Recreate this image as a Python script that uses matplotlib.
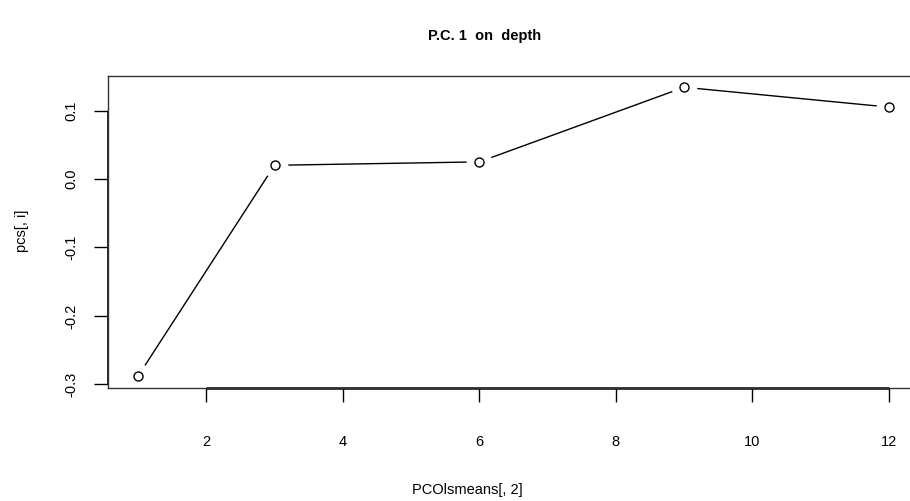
import matplotlib
matplotlib.use("Agg")
import matplotlib.pyplot as plt
import numpy as np

x_vals = [1, 3, 6, 9, 12]
y_vals = [-0.288, 0.020, 0.025, 0.134, 0.105]
x_ticks = [2, 4, 6, 8, 10, 12]
y_ticks = [-0.3, -0.2, -0.1, 0.0, 0.1]
y_tick_labels = ["-0.3", "-0.2", "-0.1", "0.0", "0.1"]
title = "P.C. 1  on  depth"
xlabel = "PCOlsmeans[, 2]"
ylabel = "pcs[, i]"

plt.rcParams['font.family'] = ['Liberation Sans', 'DejaVu Sans']

W, H = 910, 501
fig = plt.figure(figsize=(W / 100, H / 100), dpi=100)
left, right, top, bottom = 108, 919, 75.7, 387.7
ax = fig.add_axes([left / W, 1 - bottom / H, (right - left) / W, (bottom - top) / H])

xmin, xmax = min(x_vals), max(x_vals)
ymin, ymax = min(y_vals), max(y_vals)
dx, dy = (xmax - xmin) * 0.04, (ymax - ymin) * 0.04
ax.set_xlim(xmin - dx, xmax + dx)
ax.set_ylim(ymin - dy, ymax + dy)

ax.plot(x_vals, y_vals, color='black', lw=1.0, zorder=2)
ax.plot(x_vals, y_vals, ls='none', marker='o', ms=18.5, mfc='white', mec='none', zorder=2.1)
ax.plot(x_vals, y_vals, ls='none', marker='o', ms=6.5, mfc='white', mec='black', mew=1.0, zorder=2.2)

for s in ax.spines.values():
    s.set_linewidth(1.0)
    s.set_color('#333333')
    s.set_zorder(3)

fs = 10.5
ax.set_xticks(x_ticks)
ax.set_xticklabels([str(t) for t in x_ticks], fontsize=fs)
ax.set_yticks(y_ticks)
ax.set_yticklabels(y_tick_labels, fontsize=fs, rotation=90, va='center')
ax.tick_params(axis='both', direction='out', length=10, width=1.0, color='black')
ax.tick_params(axis='x', pad=24)
ax.tick_params(axis='y', pad=11)

# R-style axis lines from first to last tick
ax.plot([x_ticks[0], x_ticks[-1]], [ax.get_ylim()[0]] * 2, color='black', lw=1.8,
        clip_on=False, zorder=3, solid_capstyle='butt')
ax.plot([ax.get_xlim()[0]] * 2, [y_ticks[0], y_ticks[-1]], color='black', lw=1.2,
        clip_on=False, zorder=3, solid_capstyle='butt')

fig.text(485 / W, 1 - 36 / H, title, ha='center', va='center', fontsize=fs, fontweight='bold')
fig.text(467 / W, 1 - 490 / H, xlabel, ha='center', va='center', fontsize=fs)
fig.text(22 / W, 1 - 231 / H, ylabel, ha='center', va='center', fontsize=fs, rotation=90)

fig.savefig("out.png", dpi=100)
